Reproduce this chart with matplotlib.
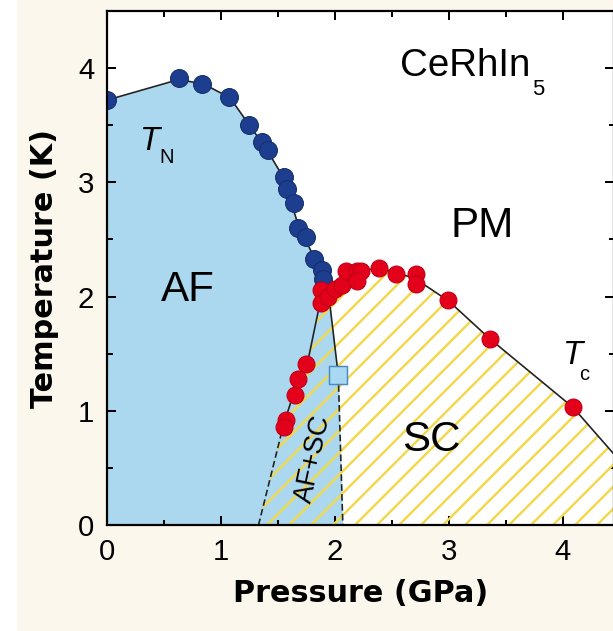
import numpy as np
from matplotlib import pyplot as plt
from matplotlib.patches import Rectangle

# Neel temperature T_N (blue points)
tn_p = [0.0, 0.63, 0.83, 1.07, 1.25, 1.36, 1.41, 1.55, 1.58, 1.64, 1.68, 1.75, 1.82, 1.89, 1.90]
tn_t = [3.72, 3.91, 3.86, 3.75, 3.50, 3.35, 3.28, 3.05, 2.94, 2.82, 2.60, 2.52, 2.33, 2.23, 2.15]

# superconducting Tc (red points)
tc_p = [1.88, 1.88, 1.94, 2.00, 2.06, 2.10, 2.19, 2.23, 2.19, 2.39, 2.54, 2.71, 2.71, 2.99, 3.36, 4.09,
        1.75, 1.68, 1.65, 1.575, 1.55]
tc_t = [2.06, 1.94, 2.00, 2.07, 2.10, 2.22, 2.22, 2.22, 2.14, 2.25, 2.20, 2.20, 2.11, 1.97, 1.63, 1.03,
        1.41, 1.28, 1.14, 0.92, 0.86]

# AF onset inside SC (square)
sq_p = [2.03]
sq_t = [1.31]

# phase boundaries
tn_line_p = [0.0, 0.63, 0.85, 1.08, 1.25, 1.40, 1.55, 1.68, 1.80, 1.90, 1.96, 2.03]
tn_line_t = [3.72, 3.90, 3.86, 3.74, 3.50, 3.29, 3.04, 2.62, 2.38, 2.12, 1.90, 1.31]
af_end_p = [2.03, 2.07]
af_end_t = [1.31, 0.0]

tc_line_p = [1.33, 1.55, 1.68, 1.76, 1.86, 1.95, 2.10, 2.40, 2.70, 3.00, 3.36, 4.09, 4.45]
tc_line_t = [0.0, 0.88, 1.28, 1.42, 1.90, 2.05, 2.21, 2.25, 2.16, 1.96, 1.63, 1.03, 0.62]

blue_fill = "#acd8ef"
hatch_col = "#f3d84a"
navy = "#1d3d8e"
red = "#e3001b"
font = "Liberation Sans"

plt.rcParams['hatch.linewidth'] = 1.3
dpi = 132
fig = plt.figure(figsize=(613 / dpi, 631 / dpi), dpi=dpi, facecolor="#fbf7ec")
fig.add_artist(Rectangle((0, 0), 16 / 613, 1, transform=fig.transFigure, color="white", zorder=0))
ax = fig.add_axes([107 / 613, 106 / 631, 507 / 613, 514 / 631])
ax.set_facecolor("white")

# AF region (blue) and SC region (yellow hatch)
af_p = tn_line_p + af_end_p[1:]
af_t = tn_line_t + af_end_t[1:]
ax.fill_between(af_p, af_t, 0, color=blue_fill, lw=0, zorder=1)
ax.fill_between(tc_line_p, tc_line_t, 0, facecolor="none", edgecolor=hatch_col, hatch="//", lw=0, zorder=2)

# boundary lines
ax.plot(tn_line_p, tn_line_t, color="#222222", lw=0.9, zorder=3)
ax.plot(af_end_p, af_end_t, color="#222222", lw=0.9, ls=(0, (4, 2)), zorder=3)
ax.plot(tc_line_p[1:], tc_line_t[1:], color="#222222", lw=0.9, zorder=3)
ax.plot(tc_line_p[:2], tc_line_t[:2], color="#222222", lw=0.9, ls=(0, (4, 2)), zorder=3)

ax.scatter(tn_p, tn_t, s=95, color=navy, edgecolor="#16306e", lw=0.6, zorder=4)
ax.scatter(tc_p, tc_t, s=85, color=red, edgecolor="#c00016", lw=0.6, zorder=4)
ax.scatter(sq_p, sq_t, s=90, marker="s", color="#a9d9f2", edgecolor="#4a8ac4", lw=0.8, zorder=5)

# labels in the diagram
ax.text(0.71, 2.06, "AF", fontsize=23, family=font, ha="center", va="center", zorder=6)
ax.text(3.29, 2.62, "PM", fontsize=23, family=font, ha="center", va="center", zorder=6)
ax.text(2.85, 0.74, "SC", fontsize=23, family=font, ha="center", va="center", zorder=6)
ax.text(1.81, 0.58, "AF+SC", fontsize=15, family=font, rotation=78,
        ha="center", va="center", rotation_mode="anchor", zorder=6)
name = ax.text(2.57, 4.02, "CeRhIn", fontsize=21, family=font, ha="left", va="center", zorder=6)
ax.annotate("5", xy=(1, 0), xycoords=name, xytext=(1, -3), textcoords="offset points",
            fontsize=12, family=font, ha="left", va="center", zorder=6)
ax.text(0.37, 3.36, "T", fontsize=18, family=font, style="italic", ha="center", va="center", zorder=6)
ax.text(0.52, 3.22, "N", fontsize=11, family=font, ha="center", va="center", zorder=6)
ax.text(4.08, 1.48, "T", fontsize=18, family=font, style="italic", ha="center", va="center", zorder=6)
ax.text(4.19, 1.32, "c", fontsize=11, family=font, ha="center", va="center", zorder=6)

ax.set_xlim(0, 4.45)
ax.set_ylim(0, 4.5)
ax.set_xticks(np.arange(0, 5, 1))
ax.set_xticks(np.arange(0.5, 4.5, 1), minor=True)
ax.set_yticks(np.arange(0, 5, 1))
ax.set_yticks(np.arange(0.5, 4.5, 1), minor=True)
ax.tick_params(which="both", direction="in", top=True, right=True, width=1.1)
ax.tick_params(which="major", length=5, pad=7, labelsize=16)
ax.tick_params(which="minor", length=3)
for lab in ax.get_xticklabels() + ax.get_yticklabels():
    lab.set_family(font)
for sp in ax.spines.values():
    sp.set_linewidth(1.2)
    sp.set_zorder(7)

ax.set_xlabel("Pressure (GPa)", fontsize=16.5, fontweight="bold", labelpad=7)
ax.set_ylabel("Temperature (K)", fontsize=16.5, fontweight="bold", labelpad=10)

fig.savefig("out.png", dpi=dpi, facecolor=fig.get_facecolor())
